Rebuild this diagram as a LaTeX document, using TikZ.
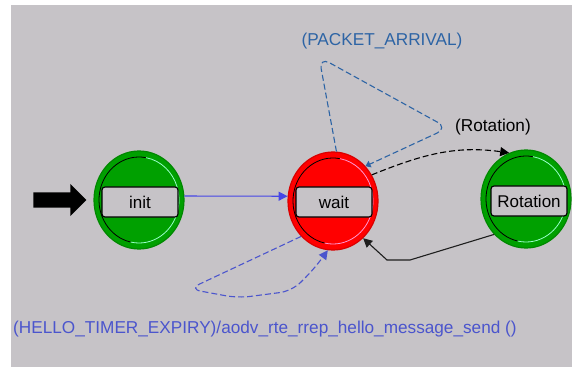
\documentclass[tikz,border=0pt]{standalone}
\usepackage{fontspec}
\setmainfont{Liberation Sans}
\usetikzlibrary{shapes.geometric,arrows.meta,calc}
\definecolor{panel}{RGB}{198,195,199}
\definecolor{stgreen}{RGB}{0,160,0}
\definecolor{stred}{RGB}{255,0,0}
\definecolor{litgreen}{RGB}{150,255,200}
\definecolor{litred}{RGB}{255,150,210}
\definecolor{solidblue}{RGB}{70,70,230}
\definecolor{steelblue}{RGB}{45,100,165}
\definecolor{hellblue}{RGB}{75,85,205}
\definecolor{edgedark}{RGB}{30,30,30}

% inner bevel ring of a state: dark on the left, light on the right
\newcommand{\bevelring}[2]{%
  \draw[black,line width=0.8pt] ($(#1.center)+(80:40 and 43)$)
    arc[start angle=80,end angle=258,x radius=40,y radius=43];
  \draw[#2,line width=0.8pt] ($(#1.center)+(258:40 and 43)$)
    arc[start angle=258,end angle=440,x radius=40,y radius=43];
}

\begin{document}
\begin{tikzpicture}[x=1pt,y=1pt,
  state/.style={ellipse,minimum width=90pt,minimum height=98pt,inner sep=0pt,
    fill=#1,draw=#1!85!black,line width=1.2pt},
  statebox/.style={rectangle,rounded corners=3pt,minimum width=76pt,minimum height=30pt,
    inner sep=0pt,fill=panel,draw=black,line width=1.1pt,
    font=\fontsize{17}{19}\selectfont},
  trlabel/.style={font=\fontsize{17.2}{19}\selectfont,inner sep=0pt},
  tip/.style={-{Triangle[length=9pt,width=9pt]}},
  smalltip/.style={-{Triangle[length=5pt,width=7pt]}},
  dashline/.style={dash pattern=on 6pt off 3pt},
  link/.style={line width=1.1pt}]
\useasboundingbox (0,0) rectangle (572,367);
\fill[white] (0,0) rectangle (572,367);
\fill[panel] (11,0) rectangle (572,362);

% states
\node[state=stgreen] (init) at (139,167) {};
\node[state=stred]   (wait) at (333,166) {};
\node[state=stgreen] (rot)  at (526,168) {};
\bevelring{init}{litgreen}
\bevelring{wait}{litred}
\bevelring{rot}{litgreen}
\node[statebox] (initbox) at ([shift={(1,-2)}]init.center) {init};
\node[statebox] (waitbox) at ([shift={(1,-1)}]wait.center) {wait};
\node[statebox] (rotbox)  at ([shift={(3,-2)}]rot.center) {Rotation};

% initial state marker
\coordinate (starttip) at ([xshift=-7pt]init.west);
\fill[black] (starttip) -- ++(-16,16) -- ++(0,-8.5) -- ++(-37,0) -- ++(0,-15)
  -- ++(37,0) -- ++(0,-8.5) -- cycle;

% init -> wait
\draw[link,solidblue,tip] (init.5) -- (wait.174);

% wait self loop on PACKET_ARRIVAL
\draw[link,steelblue,dashline,smalltip,rounded corners=12pt]
  (wait.86) -- (319,310) -- (448,239) -- (wait.47);
\node[trlabel,text=steelblue] (pktlabel) at (382,326) {(PACKET\_ARRIVAL)};

% wait -> Rotation
\draw[link,black,dashline,tip] (wait.34) to[out=22,in=172] (rot.110);
\node[trlabel,text=black] (rotlabel) at (493,240) {(Rotation)};

% Rotation -> wait
\draw[link,edgedark,tip] (rot.228) -- (410,107) -- (387,107) -- (wait.309);

% wait self loop on HELLO_TIMER_EXPIRY
\draw[link,hellblue,dashline,tip,rounded corners=12pt]
  (wait.228) -- (189,78) -- (238,69) -- (292,76) -- (314,98) -- (wait.264);
\node[trlabel,text=hellblue,anchor=west] (hellolabel) at (13,38)
  {(HELLO\_TIMER\_EXPIRY)/aodv\_rte\_rrep\_hello\_message\_send ()};
\end{tikzpicture}
\end{document}
